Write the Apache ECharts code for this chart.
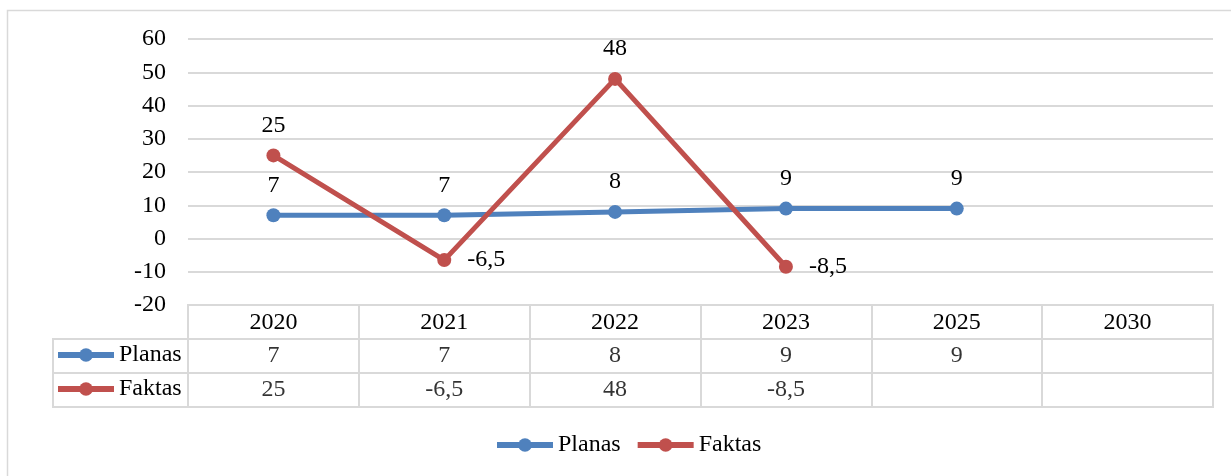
<!DOCTYPE html>
<html>
<head>
<meta charset="utf-8">
<script src="https://cdn.jsdelivr.net/npm/echarts@6/dist/echarts.min.js"></script>
<style>
  html, body { margin: 0; padding: 0; background: #fff; }
  #chart { width: 1231px; height: 476px; }
</style>
</head>
<body>
<div id="chart"></div>
<script>
// duomenys
var years = ['2020', '2021', '2022', '2023', '2025', '2030'];
var planas = [7, 7, 8, 9, 9, null];
var faktas = [25, -6.5, 48, -8.5, null, null];
var rows = ['', 'Planas', 'Faktas'];

var blue = '#4F81BD', red = '#C0504D', gridCol = '#d9d9d9';
var font = "'Liberation Serif', serif";

function fmt(v) { return String(v).replace('.', ','); }

// taskai su etiketem (neigiamos - desineje)
function pointData(arr) {
    return arr.map(function (v) {
        if (v == null) return null;
        return { value: v, label: { position: v < 0 ? 'right' : 'top', distance: v < 0 ? 16 : 11 } };
    });
}
// lenteles langeliai
function cellData(arr, rowName) {
    var res = [];
    for (var i = 0; i < arr.length; i++) {
        if (arr[i] != null) res.push([years[i], rowName, arr[i]]);
    }
    return res;
}

var txt = { fontSize: 24, color: '#000', fontFamily: font };
var legendBase = { itemWidth: 56, itemHeight: 17, lineStyle: { width: 6 }, textStyle: txt };

var chart = echarts.init(document.getElementById('chart'));
var option = {
    animation: false,
    textStyle: { fontFamily: font },
    graphic: [{
        type: 'rect', shape: { x: 7.5, y: 10.5, width: 1240, height: 480 },
        style: { fill: 'none', stroke: gridCol, lineWidth: 1.5 }, silent: true
    }],
    legend: [
        Object.assign({ data: ['Planas', 'Faktas'], bottom: 14, left: 489, itemGap: 14 }, legendBase),
        Object.assign({ data: ['Planas'], left: 55, top: 343, padding: 0 }, legendBase),
        Object.assign({ data: ['Faktas'], left: 55, top: 377, padding: 0 }, legendBase)
    ],
    grid: [
        { left: 188, right: 18, top: 39, height: 266 },
        { left: 188, right: 18, top: 305, height: 102, show: true, borderColor: gridCol, borderWidth: 2 },
        { left: 53, width: 135, top: 339, height: 68, show: true, borderColor: gridCol, borderWidth: 2 }
    ],
    xAxis: [{
        type: 'category', data: years, gridIndex: 0,
        axisLine: { show: false }, axisTick: { show: false },
        axisLabel: Object.assign({ margin: 6 }, txt)
    }, {
        type: 'category', data: years, gridIndex: 1,
        axisLine: { show: false }, axisTick: { show: false }, axisLabel: { show: false },
        splitLine: { show: true, lineStyle: { color: gridCol, width: 2 } }
    }, {
        type: 'category', data: [''], gridIndex: 2,
        axisLine: { show: false }, axisTick: { show: false }, axisLabel: { show: false }
    }],
    yAxis: [{
        type: 'value', gridIndex: 0, min: -20, max: 60, interval: 10,
        axisLine: { show: false }, axisTick: { show: false },
        axisLabel: Object.assign({ margin: 22 }, txt),
        splitLine: { lineStyle: { color: gridCol, width: 2 } }
    }, {
        type: 'category', data: rows, gridIndex: 1, inverse: true,
        axisLine: { show: false }, axisTick: { show: false }, axisLabel: { show: false },
        splitLine: { show: true, lineStyle: { color: gridCol, width: 2 } }
    }, {
        type: 'category', data: ['Planas', 'Faktas'], gridIndex: 2, inverse: true,
        axisLine: { show: false }, axisTick: { show: false }, axisLabel: { show: false },
        splitLine: { show: true, lineStyle: { color: gridCol, width: 2 } }
    }],
    series: [{
        name: 'Planas', type: 'line', data: pointData(planas),
        symbol: 'circle', symbolSize: 14,
        lineStyle: { color: blue, width: 5 }, itemStyle: { color: blue },
        label: Object.assign({ show: true, formatter: function (p) { return fmt(p.value); } }, txt)
    }, {
        name: 'Faktas', type: 'line', data: pointData(faktas),
        symbol: 'circle', symbolSize: 14,
        lineStyle: { color: red, width: 5 }, itemStyle: { color: red },
        label: Object.assign({ show: true, formatter: function (p) { return fmt(p.value); } }, txt)
    }, {
        name: 'lentelePlanas', type: 'scatter', xAxisIndex: 1, yAxisIndex: 1,
        data: cellData(planas, 'Planas'), symbolSize: 0,
        label: Object.assign({ show: true, position: 'inside', formatter: function (p) { return fmt(p.value[2]); } }, txt)
    }, {
        name: 'lenteleFaktas', type: 'scatter', xAxisIndex: 1, yAxisIndex: 1,
        data: cellData(faktas, 'Faktas'), symbolSize: 0,
        label: Object.assign({ show: true, position: 'inside', formatter: function (p) { return fmt(p.value[2]); } }, txt)
    }]
};
chart.setOption(option);
</script>
</body>
</html>
